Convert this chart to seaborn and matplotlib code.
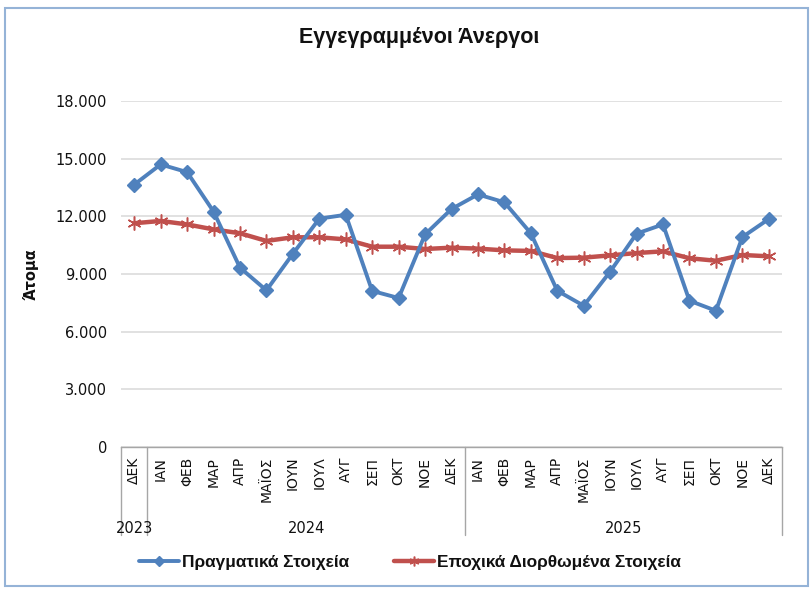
import numpy as np
import pandas as pd
import matplotlib
matplotlib.use("Agg")
import matplotlib.pyplot as plt
import matplotlib.transforms as mtransforms
from matplotlib.patches import Rectangle
from matplotlib.lines import Line2D
import seaborn as sns

# ---------------- data ----------------
months = ["ΔΕΚ", "ΙΑΝ", "ΦΕΒ", "ΜΑΡ", "ΑΠΡ", "ΜΑΪΟΣ", "ΙΟΥΝ", "ΙΟΥΛ", "ΑΥΓ", "ΣΕΠ", "ΟΚΤ", "ΝΟΕ", "ΔΕΚ",
          "ΙΑΝ", "ΦΕΒ", "ΜΑΡ", "ΑΠΡ", "ΜΑΪΟΣ", "ΙΟΥΝ", "ΙΟΥΛ", "ΑΥΓ", "ΣΕΠ", "ΟΚΤ", "ΝΟΕ", "ΔΕΚ"]
year_labels = ["2023", "2024", "2025"]
year_counts = [1, 12, 12]
actual = [13650, 14700, 14300, 12250, 9330, 8150, 10050, 11880, 12080, 8120, 7750, 11060, 12380,
          13140, 12730, 11120, 8130, 7350, 9120, 11100, 11580, 7610, 7090, 10920, 11860]
seasonal = [11640, 11760, 11580, 11320, 11120, 10720, 10910, 10910, 10800, 10420, 10420, 10300, 10370,
            10320, 10230, 10200, 9830, 9850, 9970, 10090, 10180, 9820, 9690, 9990, 9920]
series_names = ["Πραγματικά Στοιχεία", "Εποχικά Διορθωμένα Στοιχεία"]
title = "Εγγεγραμμένοι Άνεργοι"
ylabel = "Άτομα"
yticks = [0, 3000, 6000, 9000, 12000, 15000, 18000]

# ---------------- style ----------------
sns.set_style("white")
plt.rcParams['font.family'] = ['DejaVu Sans']
narrow = ['Liberation Sans Narrow', 'Liberation Sans', 'DejaVu Sans']

blue = "#4F81BD"
red = "#C0504D"
grid_c = "#D9D9D9"
axis_c = "#A6A6A6"
text_c = "#111111"

W, H = 812, 592
fig = plt.figure(figsize=(W / 100, H / 100), dpi=100)
fig.patch.set_facecolor("white")
ax = fig.add_axes([121 / W, 1 - 447 / H, (782 - 121) / W, 346 / H])

pos = list(range(len(months)))
df = pd.DataFrame({"pos": pos, "actual": actual, "seasonal": seasonal})

sns.lineplot(data=df, x="pos", y="actual", ax=ax, color=blue, linewidth=2.8,
             marker="D", markersize=7.5, markeredgecolor=blue, markeredgewidth=1,
             zorder=4)
sns.lineplot(data=df, x="pos", y="seasonal", ax=ax, color=red, linewidth=3.2,
             marker=(6, 2, 0), markersize=10, markeredgecolor=red, markeredgewidth=1.1,
             zorder=3)

ax.set_xlim(-0.5, len(months) - 0.5)
ax.set_ylim(0, 18000)
ax.set_yticks(yticks)
ax.set_yticklabels([f"{v:,}".replace(",", ".") for v in yticks], fontsize=10.5, color=text_c)
ax.yaxis.grid(True, color=grid_c, linewidth=1.1)
ax.set_axisbelow(True)
ax.tick_params(axis="y", length=0, pad=10)

ax.set_xticks(pos)
ax.set_xticklabels(months, rotation=90, fontsize=10, color=text_c)
ax.tick_params(axis="x", which="major", length=0, pad=7)
ax.set_xticks([p + 0.5 for p in pos[:-1]], minor=True)
ax.tick_params(axis="x", which="minor", length=4, width=1, color=axis_c, direction="out")

for s in ["top", "right", "left"]:
    ax.spines[s].set_visible(False)
ax.spines["bottom"].set_color(axis_c)
ax.spines["bottom"].set_linewidth(1)

ax.set_xlabel("")
ax.set_ylabel(ylabel, fontsize=10.5, fontweight="bold", color=text_c, labelpad=12)

# multi-level category separators and year labels
trans = mtransforms.blended_transform_factory(ax.transData, ax.transAxes)
bounds = [-0.5]
for c in year_counts:
    bounds.append(bounds[-1] + c)
for b in bounds:
    ax.add_line(Line2D([b, b], [0, -0.255], transform=trans, color=axis_c,
                       linewidth=1, clip_on=False))
for i, lab in enumerate(year_labels):
    center = (bounds[i] + bounds[i + 1]) / 2
    ax.text(center, -0.236, lab, transform=trans, ha="center", va="center",
            fontsize=10.5, color=text_c)

# title
fig.text(419 / W, 1 - 37 / H, title, ha="center", va="center", fontsize=15.5,
         fontweight="bold", family=narrow, color=text_c)

# legend
handles = [
    Line2D([], [], color=blue, linewidth=2.8, marker="D", markersize=5,
           markeredgecolor=blue),
    Line2D([], [], color=red, linewidth=3.2, marker=(6, 2, 0), markersize=7,
           markeredgecolor=red, markeredgewidth=1.1),
]
leg = fig.legend(handles, series_names, loc="center", bbox_to_anchor=(410 / W, 1 - 562 / H),
                 ncol=2, frameon=False, handlelength=2.3, handletextpad=0.2,
                 columnspacing=2.6, prop={"family": narrow, "weight": "bold", "size": 12.4})
for t in leg.get_texts():
    t.set_color(text_c)

# chart border
fig.patches.append(Rectangle((5 / W, 1 - 586 / H), 803 / W, 578 / H, transform=fig.transFigure,
                             fill=False, edgecolor="#95B3D7", linewidth=1.5))

fig.savefig("out.png", dpi=100, facecolor="white")
